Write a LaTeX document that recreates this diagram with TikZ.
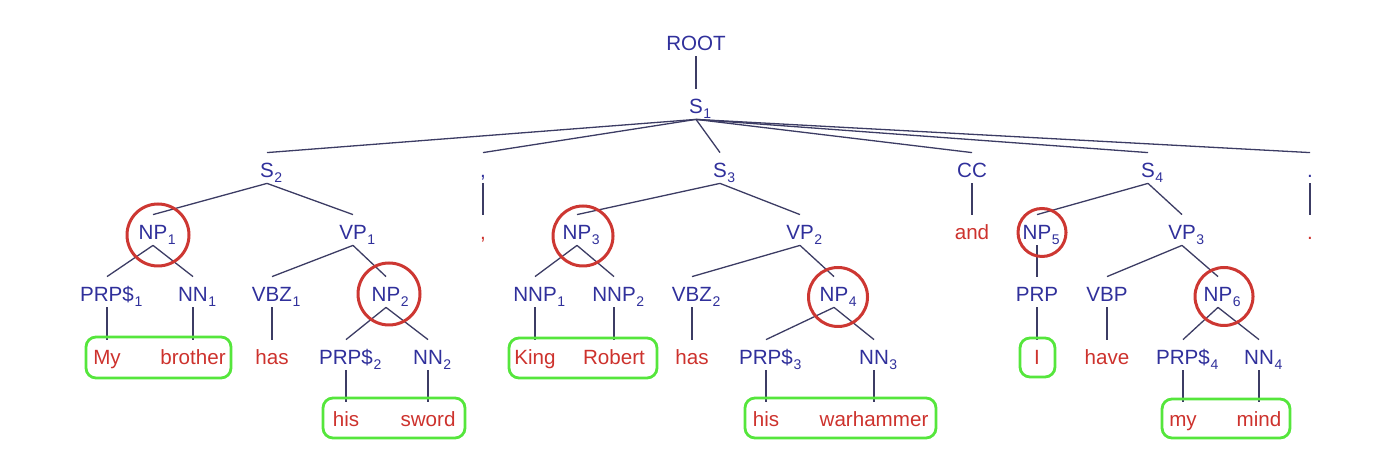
\documentclass[tikz,border=0pt]{standalone}
\usepackage{fontspec}
\setmainfont{Liberation Sans}
\definecolor{tagblue}{RGB}{48,48,155}
\definecolor{wordred}{RGB}{205,50,45}
\definecolor{edgecol}{RGB}{60,60,100}
\definecolor{circred}{RGB}{205,55,50}
\definecolor{boxgreen}{RGB}{85,230,60}
\newcommand{\subx}[1]{\rlap{\kern0.3pt\raisebox{-2.5pt}{\fontsize{7}{8}\selectfont #1}}}
\begin{document}
\begin{tikzpicture}[x=0.5pt,y=-0.5pt,
  tag/.style={text=tagblue,font=\fontsize{10.3}{12}\selectfont,inner sep=0pt,
    text height=12.5pt,text depth=2.5pt,anchor=base},
  word/.style={tag,text=wordred},
  edge/.style={draw=edgecol,line width=0.65pt},
  npcirc/.style={draw=circred,line width=1.5pt},
  gbox/.style={draw=boxgreen,line width=1.4pt,rounded corners=5pt}]
\useasboundingbox (0,0) rectangle (1400,474);

% level 0/1
\node[tag] (root) at (696,51) {ROOT};
\node[tag] (s1) at (696,114) {S\subx{1}};
% level 2
\node[tag] (s2) at (267,178) {S\subx{2}};
\node[tag] (pcomma) at (483,178) {,};
\node[tag] (s3) at (720,178) {S\subx{3}};
\node[tag] (cc) at (972,178) {CC};
\node[tag] (s4) at (1148,178) {S\subx{4}};
\node[tag] (pstop) at (1310,178) {.};
% level 3
\node[tag] (np1) at (153,240) {NP\subx{1}};
\node[tag] (vp1) at (353,240) {VP\subx{1}};
\node[word] (wcomma) at (483,240) {,};
\node[tag] (np3) at (577,240) {NP\subx{3}};
\node[tag] (vp2) at (800,240) {VP\subx{2}};
\node[word] (wand) at (972,240) {and};
\node[tag] (np5) at (1037,240) {NP\subx{5}};
\node[tag] (vp3) at (1182,240) {VP\subx{3}};
\node[word] (wstop) at (1310,240) {.};
% level 4
\node[tag] (prps1) at (107,302) {PRP\$\subx{1}};
\node[tag] (nn1) at (193,302) {NN\subx{1}};
\node[tag] (vbz1) at (272,302) {VBZ\subx{1}};
\node[tag] (np2) at (386,302) {NP\subx{2}};
\node[tag] (nnp1) at (535,302) {NNP\subx{1}};
\node[tag] (nnp2) at (614,302) {NNP\subx{2}};
\node[tag] (vbz2) at (692,302) {VBZ\subx{2}};
\node[tag] (np4) at (834,302) {NP\subx{4}};
\node[tag] (prp) at (1037,302) {PRP};
\node[tag] (vbp) at (1107,302) {VBP};
\node[tag] (np6) at (1218,302) {NP\subx{6}};
% level 5
\node[word] (wmy) at (107,365) {My};
\node[word] (wbrother) at (193,365) {brother};
\node[word] (whas1) at (272,365) {has};
\node[tag] (prps2) at (346,365) {PRP\$\subx{2}};
\node[tag] (nn2) at (428,365) {NN\subx{2}};
\node[word] (wking) at (535,365) {King};
\node[word] (wrobert) at (614,365) {Robert};
\node[word] (whas2) at (692,365) {has};
\node[tag] (prps3) at (766,365) {PRP\$\subx{3}};
\node[tag] (nn3) at (874,365) {NN\subx{3}};
\node[word] (wi) at (1037,365) {I};
\node[word] (whave) at (1107,365) {have};
\node[tag] (prps4) at (1183,365) {PRP\$\subx{4}};
\node[tag] (nn4) at (1259,365) {NN\subx{4}};
% level 6
\node[word] (whis1) at (346,427) {his};
\node[word] (wsword) at (428,427) {sword};
\node[word] (whis2) at (766,427) {his};
\node[word] (wwarhammer) at (874,427) {warhammer};
\node[word] (wmy2) at (1183,427) {my};
\node[word] (wmind) at (1259,427) {mind};

% edges
\foreach \a/\b in {root/s1,
  s1/s2,s1/pcomma,s1/s3,s1/cc,s1/s4,s1/pstop,
  s2/np1,s2/vp1,np1/prps1,np1/nn1,vp1/vbz1,vp1/np2,
  prps1/wmy,nn1/wbrother,vbz1/whas1,np2/prps2,np2/nn2,prps2/whis1,nn2/wsword,
  pcomma/wcomma,
  s3/np3,s3/vp2,np3/nnp1,np3/nnp2,nnp1/wking,nnp2/wrobert,
  vp2/vbz2,vp2/np4,vbz2/whas2,np4/prps3,np4/nn3,prps3/whis2,nn3/wwarhammer,
  cc/wand,
  s4/np5,s4/vp3,np5/prp,prp/wi,vp3/vbp,vp3/np6,vbp/whave,
  np6/prps4,np6/nn4,prps4/wmy2,nn4/wmind,
  pstop/wstop}
  \draw[edge] (\a.south) -- (\b.north);

% red circles around NPs
\draw[npcirc] ([shift={(5,-5)}]np1.base) circle[radius=15.5pt];
\draw[npcirc] ([shift={(3,-8)}]np2.base) circle[radius=15.5pt];
\draw[npcirc] ([shift={(6,-4)}]np3.base) circle[radius=15pt];
\draw[npcirc] ([shift={(4,-5)}]np4.base) circle[radius=14.75pt];
\draw[npcirc] ([shift={(5,-7.5)}]np5.base) circle[radius=12pt];
\draw[npcirc] ([shift={(6,-5.5)}]np6.base) circle[radius=14.5pt];

% green boxes around noun phrases
\draw[gbox] ([shift={(-21,-28)}]wmy.base) rectangle ([shift={(38,13)}]wbrother.base);
\draw[gbox] ([shift={(-23,-29)}]whis1.base) rectangle ([shift={(37,11)}]wsword.base);
\draw[gbox] ([shift={(-26,-27)}]wking.base) rectangle ([shift={(43,13)}]wrobert.base);
\draw[gbox] ([shift={(-21,-29)}]whis2.base) rectangle ([shift={(62,11)}]wwarhammer.base);
\draw[gbox] ([shift={(-17,-27)}]wi.base) rectangle ([shift={(18,12)}]wi.base);
\draw[gbox] ([shift={(-21,-28)}]wmy2.base) rectangle ([shift={(31,11)}]wmind.base);
\end{tikzpicture}
\end{document}
